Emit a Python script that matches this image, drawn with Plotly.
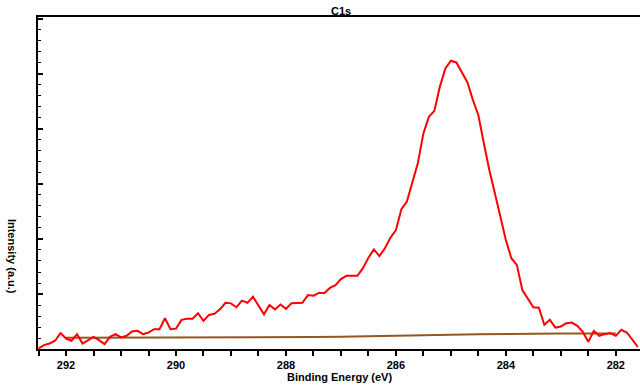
import plotly.graph_objects as go

# Binding energy grid (eV) of the measured C1s spectrum
energy = [292.5, 292.4, 292.3, 292.2, 292.1, 292.0, 291.9, 291.8, 291.7, 291.6,
          291.5, 291.4, 291.3, 291.2, 291.1, 291.0, 290.9, 290.8, 290.7, 290.6,
          290.5, 290.4, 290.3, 290.2, 290.1, 290.0, 289.9, 289.8, 289.7, 289.6,
          289.5, 289.4, 289.3, 289.2, 289.1, 289.0, 288.9, 288.8, 288.7, 288.6,
          288.5, 288.4, 288.3, 288.2, 288.1, 288.0, 287.9, 287.8, 287.7, 287.6,
          287.5, 287.4, 287.3, 287.2, 287.1, 287.0, 286.9, 286.8, 286.7, 286.6,
          286.5, 286.4, 286.3, 286.2, 286.1, 286.0, 285.9, 285.8, 285.7, 285.6,
          285.5, 285.4, 285.3, 285.2, 285.1, 285.0, 284.9, 284.8, 284.7, 284.6,
          284.5, 284.4, 284.3, 284.2, 284.1, 284.0, 283.9, 283.8, 283.7, 283.6,
          283.5, 283.4, 283.3, 283.2, 283.1, 283.0, 282.9, 282.8, 282.7, 282.6,
          282.5, 282.4, 282.3, 282.2, 282.1, 282.0, 281.9, 281.8, 281.7, 281.6]

# Measured intensity (a.u.)
intensity = [0.01, 0.07, 0.10, 0.15, 0.29, 0.19, 0.15, 0.27, 0.10, 0.16,
             0.22, 0.16, 0.09, 0.22, 0.27, 0.21, 0.24, 0.32, 0.33, 0.27,
             0.30, 0.36, 0.36, 0.56, 0.36, 0.37, 0.53, 0.55, 0.55, 0.65,
             0.51, 0.62, 0.64, 0.72, 0.84, 0.83, 0.76, 0.88, 0.84, 0.95,
             0.78, 0.63, 0.80, 0.72, 0.81, 0.73, 0.83, 0.84, 0.84, 0.98,
             0.97, 1.02, 1.02, 1.11, 1.16, 1.27, 1.33, 1.33, 1.33, 1.47,
             1.66, 1.81, 1.69, 1.83, 2.02, 2.16, 2.54, 2.68, 3.01, 3.38,
             3.92, 4.22, 4.33, 4.77, 5.10, 5.24, 5.21, 5.02, 4.85, 4.53,
             4.25, 3.74, 3.25, 2.83, 2.41, 1.98, 1.65, 1.53, 1.07, 0.92,
             0.76, 0.75, 0.44, 0.53, 0.39, 0.41, 0.47, 0.48, 0.42, 0.31,
             0.13, 0.33, 0.24, 0.27, 0.29, 0.24, 0.35, 0.30, 0.18, 0.04]

# Shirley-type background
bg_energy = [292.0, 291.5, 291.0, 290.5, 290.0, 289.5, 289.0, 288.5, 288.0, 287.5,
             287.0, 286.5, 286.0, 285.5, 285.0, 284.5, 284.0, 283.5, 283.0, 282.5, 282.0]
bg_intensity = [0.205, 0.205, 0.206, 0.207, 0.208, 0.209, 0.211, 0.213, 0.215, 0.218,
                0.222, 0.228, 0.235, 0.245, 0.257, 0.268, 0.275, 0.279, 0.281, 0.282, 0.283]

x_ticks = [292, 290, 288, 286, 284, 282]

fig = go.Figure()
fig.add_trace(go.Scatter(x=bg_energy, y=bg_intensity, mode="lines",
                         line=dict(color="#93581f", width=2), showlegend=False))
fig.add_trace(go.Scatter(x=energy, y=intensity, mode="lines",
                         line=dict(color="#ff0000", width=2), showlegend=False))

font = dict(family="Liberation Sans, Arial, sans-serif", size=11, color="black")

fig.update_layout(
    width=640, height=385,
    margin=dict(l=38, r=0, t=17, b=36),
    paper_bgcolor="white", plot_bgcolor="white",
    font=font,
    showlegend=False,
    title=dict(text="<b>C1s</b>", x=0.533, xanchor="center", y=0.971, yanchor="middle",
               font=dict(family=font["family"], size=11, color="black")),
)

fig.update_xaxes(
    range=[292.51, 281.56], autorange=False,
    showline=True, linecolor="black", linewidth=2, mirror=True,
    showgrid=False, zeroline=False,
    tickmode="array", tickvals=x_ticks, ticktext=[f"<b>{v}</b>" for v in x_ticks],
    ticks="outside", ticklen=5, tickwidth=1.5, tickcolor="black",
    minor=dict(dtick=0.5, tick0=0, ticks="outside", ticklen=5, tickwidth=1.5, tickcolor="black"),
    tickfont=font,
)
fig.update_yaxes(
    range=[0, 6.036], autorange=False,
    showline=True, linecolor="black", linewidth=2, mirror=False,
    showgrid=False, zeroline=False, showticklabels=False,
    dtick=1, tick0=0, ticks="inside", ticklen=5, tickwidth=1.5, tickcolor="black",
    minor=dict(dtick=0.2, tick0=0, ticks="inside", ticklen=3, tickwidth=1, tickcolor="black"),
)

fig.add_annotation(text="<b>Binding Energy (eV)</b>", xref="paper", yref="paper",
                   x=0.5, y=-0.084, xanchor="center", yanchor="middle",
                   showarrow=False, font=font)
fig.add_annotation(text="<b>Intensity (a.u.)</b>", xref="paper", yref="paper",
                   x=-0.043, y=0.28, xanchor="center", yanchor="middle", textangle=90,
                   showarrow=False, font=font)

fig.write_html("out.html", config={"displayModeBar": False},
               post_script="document.body.style.margin='0';")
